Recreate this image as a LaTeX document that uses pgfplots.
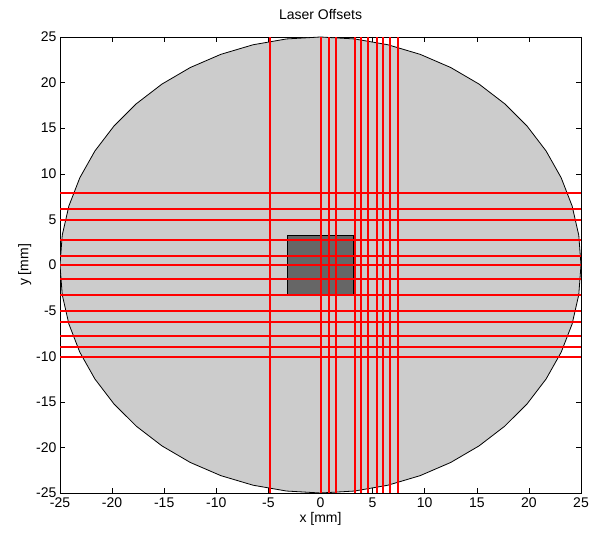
\documentclass[border=0pt]{standalone}
\usepackage{fontspec}
\setmainfont{Liberation Sans}
\usepackage{pgfplots}
\pgfplotsset{compat=1.18}
\definecolor{laser}{rgb}{1,0,0}
\definecolor{wafer}{rgb}{0.8,0.8,0.8}
\definecolor{die}{rgb}{0.4,0.4,0.4}
\begin{document}
\begin{tikzpicture}
\begin{axis}[
  scale only axis, width=521pt, height=456pt,
  xmin=-25, xmax=25, ymin=-25, ymax=25,
  xtick={-25,-20,...,25}, ytick={-25,-20,...,25},
  tick align=inside, major tick length=5pt,
  /pgf/number format/assume math mode=true,
  tick label style={font=\fontsize{14}{16}\selectfont},
  xticklabel style={yshift=-1pt},
  title={Laser Offsets},
  title style={font=\fontsize{14}{16}\selectfont, at={(0.5,1)}, anchor=south, yshift=8pt},
  xlabel={x [mm]}, ylabel={y [mm]},
  label style={font=\fontsize{14}{16}\selectfont},
  xlabel style={yshift=2pt},
  ylabel style={yshift=-2pt},
  axis line style={black, line width=0.6pt},
  every tick/.style={black, line width=0.5pt},
  laserline/.style={draw=laser, line width=2pt, mark=none, unbounded coords=jump},
]
% wafer outline
\addplot[draw=black, line width=0.8pt, fill=wafer, mark=none] coordinates {
(25,0) (24.786,3.263) (24.148,6.470) (23.097,9.567) (21.651,12.5) (19.834,15.219) (17.678,17.678) (15.219,19.834) (12.5,21.651) (9.567,23.097) (6.470,24.148) (3.263,24.786)
(0,25) (-3.263,24.786) (-6.470,24.148) (-9.567,23.097) (-12.5,21.651) (-15.219,19.834) (-17.678,17.678) (-19.834,15.219) (-21.651,12.5) (-23.097,9.567) (-24.148,6.470) (-24.786,3.263)
(-25,0) (-24.786,-3.263) (-24.148,-6.470) (-23.097,-9.567) (-21.651,-12.5) (-19.834,-15.219) (-17.678,-17.678) (-15.219,-19.834) (-12.5,-21.651) (-9.567,-23.097) (-6.470,-24.148) (-3.263,-24.786)
(0,-25) (3.263,-24.786) (6.470,-24.148) (9.567,-23.097) (12.5,-21.651) (15.219,-19.834) (17.678,-17.678) (19.834,-15.219) (21.651,-12.5) (23.097,-9.567) (24.148,-6.470) (24.786,-3.263)
(25,0)
} --cycle;
% die
\addplot[draw=black, line width=1.2pt, fill=die, mark=none] coordinates {
(-3.2,-3.2) (3.2,-3.2) (3.2,3.25) (-3.2,3.25)
} --cycle;
% vertical laser lines
\addplot[laserline] coordinates {
(-4.8,-25) (-4.8,25) (-4.8,nan)
(0,-25) (0,25) (0,nan)
(0.85,-25) (0.85,25) (0.85,nan)
(1.45,-25) (1.45,25) (1.45,nan)
(3.3,-25) (3.3,25) (3.3,nan)
(3.9,-25) (3.9,25) (3.9,nan)
(4.55,-25) (4.55,25) (4.55,nan)
(5.4,-25) (5.4,25) (5.4,nan)
(6.0,-25) (6.0,25) (6.0,nan)
(6.65,-25) (6.65,25) (6.65,nan)
(7.4,-25) (7.4,25)
};
% horizontal laser lines
\addplot[laserline] coordinates {
(-25,7.84) (25,7.84) (nan,7.84)
(-25,6.13) (25,6.13) (nan,6.13)
(-25,4.92) (25,4.92) (nan,4.92)
(-25,2.74) (25,2.74) (nan,2.74)
(-25,0.98) (25,0.98) (nan,0.98)
(-25,0) (25,0) (nan,0)
(-25,-1.5) (25,-1.5) (nan,-1.5)
(-25,-3.28) (25,-3.28) (nan,-3.28)
(-25,-5.0) (25,-5.0) (nan,-5.0)
(-25,-6.2) (25,-6.2) (nan,-6.2)
(-25,-7.77) (25,-7.77) (nan,-7.77)
(-25,-8.94) (25,-8.94) (nan,-8.94)
(-25,-10.1) (25,-10.1)
};
\end{axis}
\pgfresetboundingbox
\path ([xshift=-60pt,yshift=-45pt]current axis.south west) rectangle ([xshift=8pt,yshift=37pt]current axis.north east);
\end{tikzpicture}
\end{document}
